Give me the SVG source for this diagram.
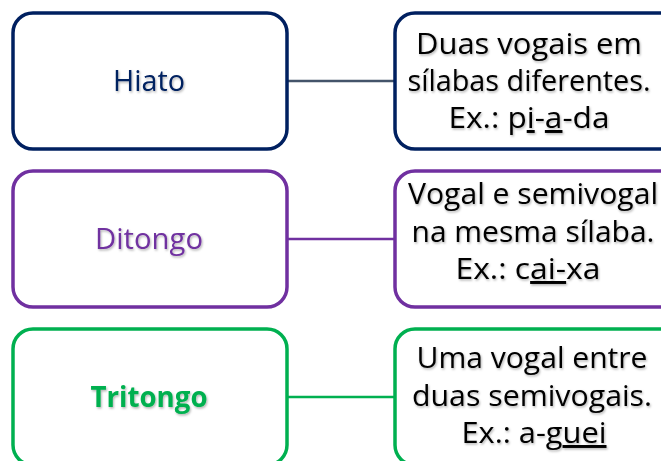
<svg xmlns="http://www.w3.org/2000/svg" width="661" height="461" viewBox="0 0 661 461">
<defs>
<filter id="sh" x="-10%" y="-20%" width="120%" height="150%">
<feDropShadow dx="1" dy="1.5" stdDeviation="1" flood-color="#000" flood-opacity="0.3"/>
</filter>
</defs>
<style>
.box{fill:#fff;stroke-width:3.5}
.lbl{font-family:"Open Sans","Liberation Sans",Arial,sans-serif;font-size:29px;text-anchor:middle}
.desc{font-family:"Open Sans","Liberation Sans",Arial,sans-serif;font-size:29.5px;text-anchor:middle;fill:#000}
.u{text-decoration:underline}
.navy{stroke:#002060}
.purple{stroke:#7030A0}
.green{stroke:#00B050}
.conn{fill:none;stroke-width:2.5}
</style>
<rect width="661" height="461" fill="#fff"/>
<g id="connectors">
<line class="conn" x1="287" y1="81" x2="395" y2="81" stroke="#44546A"/>
<line class="conn" x1="287" y1="239" x2="395" y2="239" stroke="#7030A0"/>
<line class="conn" x1="287" y1="397" x2="395" y2="397" stroke="#00B050"/>
</g>
<g id="hiato">
<rect class="box navy" x="13" y="13" width="274" height="136" rx="20"/>
<text class="lbl" x="149" y="91" fill="#002060" filter="url(#sh)" textLength="72" lengthAdjust="spacingAndGlyphs">Hiato</text>
</g>
<g id="hiato-desc">
<rect class="box navy" x="395" y="13" width="290" height="136" rx="20"/>
<g filter="url(#sh)">
<text class="desc" x="529" y="54" textLength="226" lengthAdjust="spacingAndGlyphs">Duas vogais em</text>
<text class="desc" x="529" y="91" textLength="243" lengthAdjust="spacingAndGlyphs">sílabas diferentes.</text>
<text class="desc" x="529" y="128" textLength="161" lengthAdjust="spacingAndGlyphs">Ex.: p<tspan class="u">i</tspan>-<tspan class="u">a</tspan>-da</text>
</g>
</g>
<g id="ditongo">
<rect class="box purple" x="13" y="171" width="274" height="136" rx="20"/>
<text class="lbl" x="149" y="249" fill="#7030A0" filter="url(#sh)" textLength="108" lengthAdjust="spacingAndGlyphs">Ditongo</text>
</g>
<g id="ditongo-desc">
<rect class="box purple" x="395" y="171" width="290" height="136" rx="20"/>
<g filter="url(#sh)">
<text class="desc" x="533" y="204" textLength="250" lengthAdjust="spacingAndGlyphs">Vogal e semivogal</text>
<text class="desc" x="533" y="242" textLength="243" lengthAdjust="spacingAndGlyphs">na mesma sílaba.</text>
<text class="desc" x="528" y="279" textLength="145" lengthAdjust="spacingAndGlyphs">Ex.: c<tspan class="u">ai-</tspan>xa</text>
</g>
</g>
<g id="tritongo">
<rect class="box green" x="13" y="329" width="274" height="136" rx="20"/>
<text class="lbl" x="149" y="407" fill="#00B050" font-weight="bold" filter="url(#sh)" textLength="117" lengthAdjust="spacingAndGlyphs">Tritongo</text>
</g>
<g id="tritongo-desc">
<rect class="box green" x="395" y="329" width="290" height="136" rx="20"/>
<g filter="url(#sh)">
<text class="desc" x="532" y="368" textLength="231" lengthAdjust="spacingAndGlyphs">Uma vogal entre</text>
<text class="desc" x="532" y="406" textLength="240" lengthAdjust="spacingAndGlyphs">duas semivogais.</text>
<text class="desc" x="534" y="443" textLength="145" lengthAdjust="spacingAndGlyphs">Ex.: a-g<tspan class="u">uei</tspan></text>
</g>
</g>
</svg>
